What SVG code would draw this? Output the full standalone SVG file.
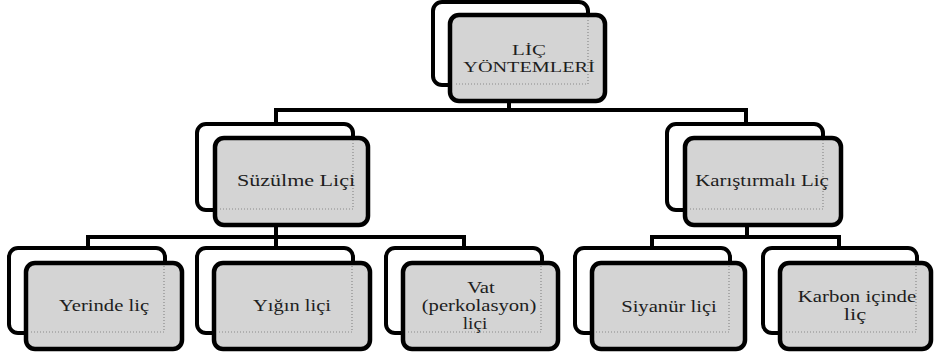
<svg xmlns="http://www.w3.org/2000/svg" width="934" height="362" viewBox="0 0 934 362">
<style>
.back{fill:#fff;stroke:#000;stroke-width:4}
.front{fill:#d4d4d4;stroke:#000;stroke-width:4.5}
.dot{fill:none;stroke:#8a8a8a;stroke-width:1.2;stroke-dasharray:1 2}
.conn{fill:none;stroke:#000;stroke-width:4}
.t{font-family:'Liberation Serif','Times New Roman',serif;font-size:16px;fill:#1e1e1e;text-anchor:middle}
</style>
<rect width="934" height="362" fill="#fff"/>
<g id="connectors">
<path class="conn" d="M509,101 V110 M276,124 V110 H746 V124"/>
<path class="conn" d="M276,225 V248 M88,248 V237 H464 V248"/>
<path class="conn" d="M747,225 V237 M652,248 V237 H839 V248"/>
</g>
<g id="node-lic-yontemleri">
<rect class="back" x="433" y="2" width="155" height="83" rx="9"/>
<rect class="front" x="450" y="15" width="155" height="86" rx="9"/>
<path class="dot" d="M588,17 V84 H454"/>
<text class="t" transform="translate(529,55) scale(1.4,1)" style="font-size:15px">LİÇ</text>
<text class="t" transform="translate(529,72) scale(1.35,1)" style="font-size:15px">YÖNTEMLERİ</text>
</g>
<g id="node-suzulme">
<rect class="back" x="197" y="124" width="156" height="86" rx="9"/>
<rect class="front" x="215" y="138" width="153" height="87" rx="9"/>
<path class="dot" d="M353,140 V209 H219"/>
<text class="t" transform="translate(296,186) scale(1.38,1)">Süzülme Liçi</text>
</g>
<g id="node-karistirmali">
<rect class="back" x="667" y="124" width="156" height="86" rx="9"/>
<rect class="front" x="685" y="138" width="156" height="87" rx="9"/>
<path class="dot" d="M823,140 V209 H689"/>
<text class="t" transform="translate(762,186) scale(1.3,1)">Karıştırmalı Liç</text>
</g>
<g id="node-yerinde">
<rect class="back" x="9" y="248" width="156" height="85" rx="9"/>
<rect class="front" x="26" y="263" width="156" height="86" rx="9"/>
<path class="dot" d="M164,266 V332 H30"/>
<text class="t" transform="translate(104,311) scale(1.29,1)">Yerinde liç</text>
</g>
<g id="node-yigin">
<rect class="back" x="197" y="248" width="156" height="85" rx="9"/>
<rect class="front" x="214" y="263" width="156" height="86" rx="9"/>
<path class="dot" d="M352,266 V332 H218"/>
<text class="t" transform="translate(292,311) scale(1.28,1)">Yığın liçi</text>
</g>
<g id="node-vat">
<rect class="back" x="386" y="248" width="156" height="85" rx="9"/>
<rect class="front" x="403" y="263" width="155" height="86" rx="9"/>
<path class="dot" d="M541,266 V332 H407"/>
<text class="t" transform="translate(481,293) scale(1.3,1)">Vat</text>
<text class="t" transform="translate(479,311) scale(1.29,1)">(perkolasyon)</text>
<text class="t" transform="translate(475,329) scale(1.2,1)">liçi</text>
</g>
<g id="node-siyanur">
<rect class="back" x="575" y="248" width="155" height="85" rx="9"/>
<rect class="front" x="592" y="263" width="153" height="86" rx="9"/>
<path class="dot" d="M729,266 V332 H596"/>
<text class="t" transform="translate(669,312) scale(1.29,1)">Siyanür liçi</text>
</g>
<g id="node-karbon">
<rect class="back" x="763" y="248" width="154" height="85" rx="9"/>
<rect class="front" x="780" y="263" width="151" height="86" rx="9"/>
<path class="dot" d="M916,266 V332 H784"/>
<text class="t" transform="translate(857,302) scale(1.3,1)">Karbon içinde</text>
<text class="t" transform="translate(855,320) scale(1.4,1)">liç</text>
</g>
</svg>
